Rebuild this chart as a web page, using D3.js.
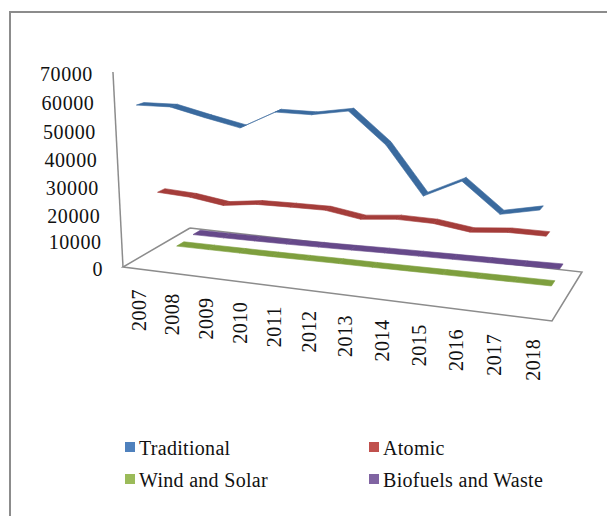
<!DOCTYPE html>
<html><head><meta charset="utf-8">
<script src="https://cdn.jsdelivr.net/npm/d3@7"></script>
<style>html,body{margin:0;padding:0;background:#fff}svg{display:block}text{font-family:"Liberation Serif",serif;fill:#111}</style>
</head><body><svg id="c" width="607" height="516"></svg>
<script>
const years=["2007","2008","2009","2010","2011","2012","2013","2014","2015","2016","2017","2018"];
const valueTicks=[0,10000,20000,30000,40000,50000,60000,70000];
const traditional=[58800,59600,57300,55200,62200,62800,65600,55400,38900,45900,35700,39000];
const atomic=[24700,24300,22700,24600,25100,25500,23700,25300,25400,23800,25400,25700];
const windSolar=[200,300,400,500,700,900,1000,1200,1400,1600,1800,2000];
const biofuels=[900,1000,1200,1400,1700,2000,2400,2700,3000,3300,3600,4000];
const seriesNames=["Traditional","Atomic","Wind and Solar","Biofuels and Waste"];
const seriesValues=[traditional,atomic,windSolar,biofuels];
const ribbonColors=["#3a6a9e","#a43d3a","#7e9f3e","#66498a"];
const legendColors=["#4f81bd","#c0504d","#9bbb59","#8064a2"];

const svg=d3.select("#c");
const A=[123,267],B=[552,321],C=[190,228],D=[582,272];
const tScale=d3.scalePoint().domain(years).range([0.042,0.96]);
const dScale=d3.scalePoint().domain(seriesNames).range([0.125,0.875]);
const vScale=d3.scaleLinear().domain([0,70000]).range([0,1]);
const warp=t=>t*(0.9+0.1*t);
function project(t,d,v){
  const tt=warp(t);
  const fx=d3.interpolate(d3.interpolate(A[0],B[0])(tt),d3.interpolate(C[0],D[0])(tt))(d);
  const fy=d3.interpolate(d3.interpolate(A[1],B[1])(tt),d3.interpolate(C[1],D[1])(tt))(d);
  const u=vScale(v);
  const h=195*(1-0.1*d)*u*(0.944+0.056*u);
  return [fx+(fx-350)*0.044*(h/194),fy-h];
}
// frame: only the top and left edges are visible
const frameColor="#8c8c8c";
const line=d3.line();
svg.append("path").attr("d",line([[10,516],[10,12],[607,12]])).attr("fill","none").attr("stroke",frameColor).attr("stroke-width",2);
// floor and vertical axis
const axisTop=project(0,0,70000);
svg.append("path").attr("d",line([C,A,B,D,C])).attr("fill","none").attr("stroke",frameColor).attr("stroke-width",1.5);
svg.append("path").attr("d",line([A,axisTop])).attr("fill","none").attr("stroke",frameColor).attr("stroke-width",1.5);
// ribbons, back to front
const halfDepth=0.055;
d3.range(3,-1,-1).forEach(si=>{
  const vals=seriesValues[si],d=dScale(seriesNames[si]);
  const g=svg.append("g");
  d3.pairs(years.map((y,i)=>[tScale(y),vals[i]])).forEach(([a,b])=>{
    g.append("path").attr("d",line([project(a[0],d-halfDepth,a[1]),project(b[0],d-halfDepth,b[1]),project(b[0],d+halfDepth,b[1]),project(a[0],d+halfDepth,a[1])])+"Z")
     .attr("fill",ribbonColors[si]).attr("stroke",ribbonColors[si]).attr("stroke-width",0.6);
  });
});
// value labels
const yLabels=svg.append("g").attr("text-anchor","end");
valueTicks.forEach(v=>{
  const p=project(0,0,v);
  yLabels.append("text").attr("x",p[0]-20).attr("y",p[1]+9).attr("font-size",20).attr("letter-spacing",0.6).text(v);
});
// year labels
const xLabels=svg.append("g");
years.forEach(y=>{
  const p=project(tScale(y),0,0);
  xLabels.append("text").attr("transform",`translate(${p[0]+7},${p[1]+20}) rotate(-90)`).attr("text-anchor","end").attr("font-size",20).attr("letter-spacing",0.5).text(y);
});
// legend
const legendCols=[125,369];
const legendRows=[447,479];
seriesNames.forEach((n,i)=>{
  const x=legendCols[i%2],y=legendRows[Math.floor(i/2)];
  svg.append("rect").attr("x",x).attr("y",y-5).attr("width",10).attr("height",10).attr("fill",legendColors[i]);
  svg.append("text").attr("x",x+14).attr("y",y+8).attr("font-size",20).attr("letter-spacing",0.3).text(n);
});
</script></body></html>
